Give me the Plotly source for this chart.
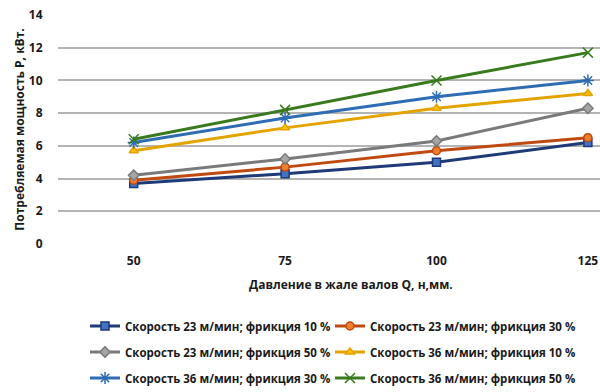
import plotly.graph_objects as go

categories = ["50", "75", "100", "125"]
names = [
    "Скорость 23 м/мин; фрикция 10 %",
    "Скорость 23 м/мин; фрикция 30 %",
    "Скорость 23 м/мин; фрикция 50 %",
    "Скорость 36 м/мин; фрикция 10 %",
    "Скорость 36 м/мин; фрикция 30 %",
    "Скорость 36 м/мин; фрикция 50 %",
]
s1 = [3.7, 4.3, 5.0, 6.2]
s2 = [3.9, 4.7, 5.7, 6.5]
s3 = [4.2, 5.2, 6.3, 8.3]
s4 = [5.7, 7.1, 8.3, 9.2]
s5 = [6.2, 7.7, 9.0, 10.0]
s6 = [6.4, 8.2, 10.0, 11.7]
series = [s1, s2, s3, s4, s5, s6]

line_colors = ["#1F3A78", "#C0490F", "#7A7A7A", "#E3A400", "#2E6DB4", "#3A7A1E"]
marker_colors = ["#4472C4", "#ED7D31", "#A5A5A5", "#FFC000", "#5B9BD5", "#70AD47"]
symbols = ["square", "circle", "diamond", "triangle-up", "asterisk", "x-thin"]

font_family = "Open Sans, Noto Sans, sans-serif"
txt = "#1a1a1a"

plot_left, plot_right, plot_top, plot_bottom = 58, 600, 15, 244
pw = plot_right - plot_left
ph = plot_bottom - plot_top
legend_cols_px = [85, 330]
legend_rows_px = [326, 352, 378]

fig = go.Figure()
legends = {}
for i, (nm, ys) in enumerate(zip(names, series)):
    sym = symbols[i]
    mk = dict(symbol=sym, size=8, color=marker_colors[i],
              line=dict(color=line_colors[i], width=1.5))
    if sym in ("asterisk", "x-thin"):
        mk = dict(symbol=sym, size=10, color=line_colors[i],
                  line=dict(color=line_colors[i], width=1.5))
    lid = "legend" if i == 0 else f"legend{i + 1}"
    fig.add_trace(go.Scatter(
        x=categories, y=ys, name=nm, mode="lines+markers",
        line=dict(color=line_colors[i], width=3),
        marker=mk, legend=lid,
    ))
    col, row = i % 2, i // 2
    legends[lid] = dict(
        orientation="h", x=(legend_cols_px[col] - plot_left) / pw, xanchor="left",
        y=-(legend_rows_px[row] - plot_bottom) / ph, yanchor="middle",
        font=dict(family=font_family, size=11.5, color=txt, weight="bold"),
        bgcolor="rgba(0,0,0,0)",
    )

fig.update_layout(
    width=600, height=392,
    margin=dict(l=plot_left, r=600 - plot_right, t=plot_top, b=392 - plot_bottom,
                autoexpand=False),
    paper_bgcolor="white", plot_bgcolor="white",
    font=dict(family=font_family, size=12, color=txt),
    showlegend=True,
    **legends,
)
fig.update_xaxes(
    type="category", range=[-0.5, 3.08], showgrid=False, zeroline=False,
    showline=False, ticks="outside", ticklen=6, tickcolor="rgba(0,0,0,0)",
    automargin=False,
    tickfont=dict(family=font_family, size=12, color=txt, weight="bold"),
)
fig.update_yaxes(
    range=[0, 14], dtick=2, showgrid=True, gridcolor="#B4B4B4", gridwidth=1.5,
    zeroline=False, showline=False, ticks="outside", ticklen=12,
    tickcolor="rgba(0,0,0,0)", automargin=False,
    tickfont=dict(family=font_family, size=12, color=txt, weight="bold"),
    title=dict(text="Потребляемая мощность Р, кВт.",
               font=dict(family=font_family, size=12, color=txt, weight="bold"),
               standoff=1),
)
fig.add_annotation(
    text="Давление в жале валов Q, н,мм.", xref="paper", yref="paper",
    x=(351 - plot_left) / pw, y=-(284 - plot_bottom) / ph, showarrow=False,
    xanchor="center", yanchor="middle",
    font=dict(family=font_family, size=12, color=txt, weight="bold"),
)
fig.write_html("out.html", config={"displayModeBar": False},
               post_script="document.body.style.margin='0';")
